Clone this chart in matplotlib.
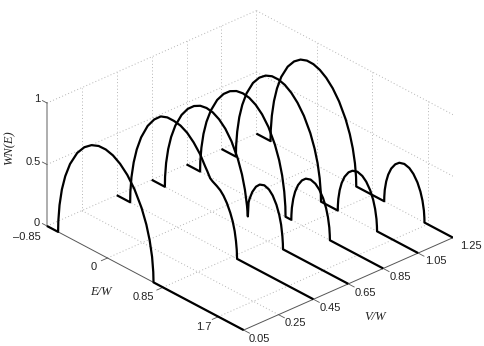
import matplotlib
matplotlib.use("Agg")
import matplotlib.pyplot as plt
from mpl_toolkits.mplot3d import proj3d

# curves, one per V/W value
e_005 = [-0.927, -0.757, -0.753, -0.735, -0.699, -0.647, -0.574, -0.464, -0.355, -0.245, -0.135, -0.026, 0.084, 0.194, 0.304, 0.413, 0.523, 0.596, 0.647, 0.684, 0.702, 0.706, 2.087]
z_005 = [0, 0, 0.092, 0.224, 0.361, 0.484, 0.603, 0.724, 0.801, 0.849, 0.873, 0.875, 0.858, 0.820, 0.761, 0.676, 0.554, 0.439, 0.325, 0.201, 0.083, 0, 0]

e_045 = [-0.927, -0.722, -0.719, -0.702, -0.668, -0.621, -0.554, -0.454, -0.353, -0.252, -0.152, -0.051, 0.05, 0.15, 0.251, 0.352, 0.427, 0.46, 0.504, 0.54, 0.607, 0.66, 0.709, 0.76, 0.813, 0.85, 0.88, 0.90, 0.912, 0.917, 2.087]
z_045 = [0, 0, 0.085, 0.21, 0.34, 0.458, 0.575, 0.696, 0.777, 0.83, 0.85, 0.85, 0.84, 0.811, 0.76, 0.69, 0.615, 0.585, 0.54, 0.525, 0.505, 0.485, 0.455, 0.41, 0.345, 0.285, 0.215, 0.14, 0.07, 0, 0]

e_065 = [-0.927, -0.725, -0.722, -0.706, -0.674, -0.629, -0.565, -0.469, -0.374, -0.278, -0.182, -0.086, 0.010, 0.106, 0.202, 0.297, 0.393, 0.457, 0.502, 0.534, 0.547, 0.558, 0.572, 0.615, 0.672, 0.729, 0.80, 0.871, 0.928, 0.985, 1.028, 1.057, 1.076, 1.084, 1.086, 2.087]
z_065 = [0, 0, 0.082, 0.199, 0.321, 0.432, 0.542, 0.656, 0.732, 0.782, 0.811, 0.82, 0.811, 0.782, 0.732, 0.656, 0.542, 0.432, 0.321, 0.199, 0.116, 0.232, 0.264, 0.334, 0.393, 0.426, 0.44, 0.426, 0.393, 0.334, 0.264, 0.192, 0.107, 0.044, 0, 0]

e_085 = [-0.927, -0.72, -0.717, -0.700, -0.668, -0.622, -0.556, -0.458, -0.360, -0.262, -0.163, -0.065, 0.033, 0.132, 0.230, 0.328, 0.426, 0.492, 0.538, 0.570, 0.587, 0.59, 0.678, 0.680, 0.687, 0.708, 0.737, 0.782, 0.841, 0.900, 0.974, 1.048, 1.107, 1.166, 1.211, 1.240, 1.261, 1.268, 1.27, 2.087]
z_085 = [0, 0, 0.082, 0.199, 0.321, 0.432, 0.542, 0.656, 0.732, 0.782, 0.811, 0.82, 0.811, 0.782, 0.732, 0.656, 0.542, 0.432, 0.321, 0.199, 0.082, 0, 0, 0.041, 0.100, 0.179, 0.246, 0.312, 0.366, 0.397, 0.41, 0.397, 0.366, 0.312, 0.246, 0.179, 0.100, 0.041, 0, 0]

e_105 = [-0.927, -0.706, -0.703, -0.686, -0.654, -0.608, -0.543, -0.445, -0.347, -0.250, -0.152, -0.054, 0.044, 0.142, 0.239, 0.337, 0.435, 0.500, 0.546, 0.578, 0.595, 0.598, 0.855, 0.857, 0.864, 0.885, 0.915, 0.960, 1.021, 1.081, 1.157, 1.232, 1.292, 1.353, 1.398, 1.428, 1.449, 1.456, 1.458, 2.087]
z_105 = [0, 0, 0.086, 0.209, 0.336, 0.449, 0.560, 0.672, 0.743, 0.787, 0.809, 0.81, 0.794, 0.758, 0.703, 0.624, 0.511, 0.404, 0.299, 0.185, 0.076, 0, 0, 0.04, 0.097, 0.174, 0.24, 0.304, 0.357, 0.387, 0.40, 0.387, 0.357, 0.304, 0.24, 0.174, 0.097, 0.04, 0, 0]

e_125 = [-0.927, -0.71, -0.707, -0.690, -0.657, -0.611, -0.546, -0.447, -0.349, -0.250, -0.152, -0.053, 0.046, 0.144, 0.243, 0.341, 0.440, 0.505, 0.551, 0.584, 0.601, 0.604, 1.032, 1.034, 1.041, 1.063, 1.094, 1.140, 1.202, 1.264, 1.341, 1.418, 1.480, 1.542, 1.588, 1.619, 1.641, 1.648, 1.65, 2.087]
z_125 = [0, 0, 0.087, 0.212, 0.341, 0.456, 0.568, 0.679, 0.749, 0.792, 0.811, 0.81, 0.791, 0.754, 0.697, 0.617, 0.503, 0.398, 0.294, 0.182, 0.075, 0, 0, 0.039, 0.095, 0.170, 0.234, 0.296, 0.348, 0.378, 0.39, 0.378, 0.348, 0.296, 0.234, 0.170, 0.095, 0.039, 0, 0]

curves = [(0.05, e_005, z_005), (0.45, e_045, z_045), (0.65, e_065, z_065),
          (0.85, e_085, z_085), (1.05, e_105, z_105), (1.25, e_125, z_125)]

e_lim = (-0.927, 2.087)
v_lim = (0.05, 1.25)
e_ticks = [-0.927, 0, 0.85, 1.7]
v_ticks = [0.05, 0.25, 0.45, 0.65, 0.85, 1.05, 1.25]
z_ticks = [0, 0.5, 1]

e_labels = ["\u20130.85", "0", "0.85", "1.7"]
v_labels = ["0.05", "0.25", "0.45", "0.65", "0.85", "1.05", "1.25"]
z_labels = ["0", "0.5", "1"]

W, H = 485, 346

fig = plt.figure(figsize=(W / 100, H / 100), dpi=100)
ax = fig.add_axes([0, 0, 1, 1], projection="3d", proj_type="ortho")
ax.set_box_aspect((293.7, 285.6, 141.5))
ax.view_init(elev=28.9, azim=-42.4)
ax.set_xlim(*e_lim, view_margin=0)
ax.set_ylim(*v_lim, view_margin=0)
ax.set_zlim(0, 1, view_margin=0)
ax.set_axis_off()
ax.patch.set_alpha(0)

dots = dict(color="#b4b4b4", lw=0.7, ls=(0, (1, 2.4)))

# floor grid
for v in v_ticks[1:]:
    ax.plot(e_lim, [v, v], [0, 0], **dots)
for e in e_ticks:
    ax.plot([e, e], v_lim, [0, 0], **dots)
# back walls
for v in v_ticks[1:]:
    ax.plot([e_lim[0]] * 2, [v, v], [0, 1], **dots)
for e in e_ticks[1:]:
    ax.plot([e, e], [v_lim[1]] * 2, [0, 1], **dots)
for z in z_ticks[1:]:
    ax.plot([e_lim[0]] * 2, v_lim, [z, z], **dots)
    ax.plot(e_lim, [v_lim[1]] * 2, [z, z], **dots)

# axes and ticks
ax.plot(e_lim, [v_lim[0]] * 2, [0, 0], color="#555555", lw=0.7)
ax.plot([e_lim[1]] * 2, v_lim, [0, 0], color="#555555", lw=0.7)
ax.plot([e_lim[0]] * 2, [v_lim[0]] * 2, [0, 1], color="#999999", lw=1.1)
for e in e_ticks[1:]:
    ax.plot([e, e], [v_lim[0], v_lim[0] - 0.035], [0, 0], color="#555555", lw=0.6)
for v in v_ticks:
    ax.plot([e_lim[1], e_lim[1] + 0.09], [v, v], [0, 0], color="#555555", lw=0.6)
for z in z_ticks:
    ax.plot([e_lim[0], e_lim[0] - 0.07], [v_lim[0]] * 2, [z, z], color="#555555", lw=0.6)

for v, e, z in curves:
    ax.plot(e, [v] * len(e), z, color="black", lw=1.6, solid_joinstyle="round", solid_capstyle="butt")


def to_px(e, v, z):
    x, y, _ = proj3d.proj_transform(e, v, z, ax.get_proj())
    return ax.transData.transform((x, y))


# fit the box onto the same pixels as the reference
side = float(W)
ax.set_position([0, 0, side / W, side / H])
fig.canvas.draw()
p0 = to_px(e_lim[0], v_lim[0], 0)
p1 = to_px(e_lim[1], v_lim[1], 0)
side = side * (453 - 47) / (p1[0] - p0[0])
ax.set_position([0, 0, side / W, side / H])
fig.canvas.draw()
p0 = to_px(e_lim[0], v_lim[0], 0)
ax.set_position([(47 - p0[0]) / W, ((H - 226) - p0[1]) / H, side / W, side / H])

tick_font = dict(family="Liberation Sans", size=8, color="#222222", ha="center", va="center")
label_font = dict(family="Liberation Serif", style="italic", size=9, color="#222222", ha="center", va="center")


def put(px, py, s, font, **kw):
    fig.text(px / W, 1 - py / H, s, **font, **kw)


for (px, py), s in zip([(37, 223), (33, 162), (37, 99)], z_labels):
    put(px, py, s, tick_font)
for (px, py), s in zip([(27, 237), (94, 267), (143, 297), (204, 327)], e_labels):
    put(px, py, s, tick_font)
for (px, py), s in zip([(259, 339), (295, 323), (330, 308), (365, 293), (400, 277), (436, 261), (471, 246)], v_labels):
    put(px, py, s, tick_font)

put(101, 292, "E/W", label_font)
put(375, 317, "V/W", label_font)
put(9, 148, "WN(E)", label_font, rotation=90)

fig.savefig("out.png", dpi=100)
